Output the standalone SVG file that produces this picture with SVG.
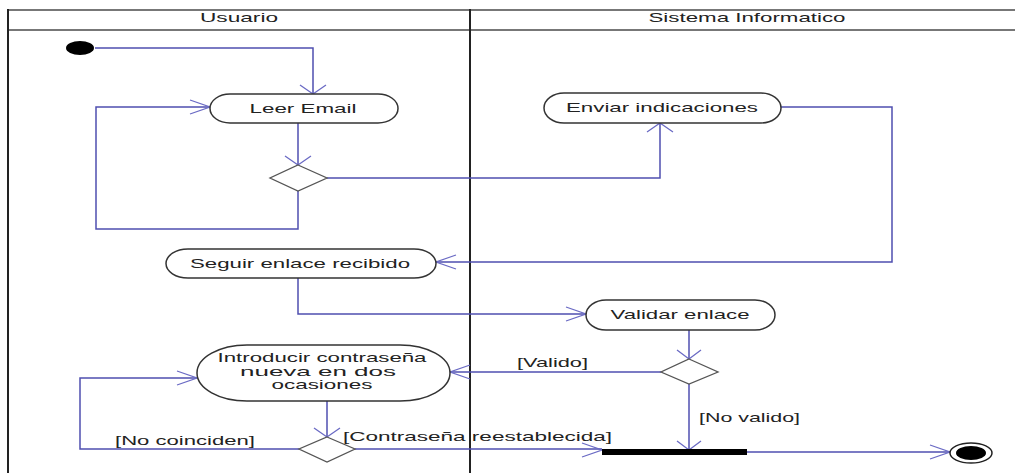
<svg xmlns="http://www.w3.org/2000/svg" width="1015" height="473" viewBox="0 0 1015 473">
  <style>
    text { font-family: "Liberation Sans", Arial, sans-serif; font-size: 13px; fill: #222; }
    .lbl { text-anchor: start; }
    .mid { text-anchor: middle; }
    .frame { stroke: #777; stroke-width: 2; fill: none; }
    .lane { stroke: #222; stroke-width: 2; fill: none; }
    .act { fill: #fff; stroke: #333; stroke-width: 1.5; }
    .dec { fill: #fff; stroke: #555; stroke-width: 1.3; }
    .flow { fill: none; stroke: #4f4fb0; stroke-width: 1.5; }
    .head { fill: none; stroke: #6a6ac4; stroke-width: 1.3; }
  </style>

  <rect width="1015" height="473" fill="#fff"/>

  <!-- swimlane frame -->
  <g id="swimlanes">
    <line class="frame" x1="8" y1="10" x2="1015" y2="10"/>
    <line class="frame" x1="8" y1="30" x2="1015" y2="30"/>
    <line class="lane" x1="8" y1="9" x2="8" y2="473" stroke-width="2.5"/>
    <line class="lane" x1="470" y1="9" x2="470" y2="473"/>
    <text class="mid" x="239" y="22" textLength="78" lengthAdjust="spacingAndGlyphs">Usuario</text>
    <text class="mid" x="747" y="22" textLength="197" lengthAdjust="spacingAndGlyphs">Sistema Informatico</text>
  </g>

  <!-- control flows -->
  <g id="connectors">
    <path class="flow" d="M95,48 H313 V94"/>
    <path class="head" d="M300,85 L313,94 L326,85"/>

    <path class="flow" d="M298,123 V165"/>
    <path class="head" d="M285,156 L298,165 L311,156"/>

    <path class="flow" d="M298,191 V229 H96 V107 H210"/>
    <path class="head" d="M190,100 L210,107 L190,114"/>

    <path class="flow" d="M327,178 H660 V123"/>
    <path class="head" d="M647,132 L660,123 L673,132"/>

    <path class="flow" d="M781,107 H892 V262 H436"/>
    <path class="head" d="M456,255 L436,262 L456,269"/>

    <path class="flow" d="M298,278 V314 H586"/>
    <path class="head" d="M566,307 L586,314 L566,321"/>

    <path class="flow" d="M689,330 V359"/>
    <path class="head" d="M677,350 L689,359 L701,350"/>

    <path class="flow" d="M661,372 H450"/>
    <path class="head" d="M470,365 L450,372 L470,379"/>

    <path class="flow" d="M689,384 V450"/>
    <path class="head" d="M677,441 L689,450 L701,441"/>

    <path class="flow" d="M747,452 H950"/>
    <path class="head" d="M930,445 L950,452 L930,459"/>

    <path class="flow" d="M327,401 V437"/>
    <path class="head" d="M314,428 L327,437 L340,428"/>

    <path class="flow" d="M299,449 H80 V378 H197"/>
    <path class="head" d="M177,371 L197,378 L177,385"/>

    <path class="flow" d="M355,449 H602"/>
    <path class="head" d="M582,443 L602,450 L582,457"/>

    <text class="lbl" x="517" y="367" textLength="71" lengthAdjust="spacingAndGlyphs">[Valido]</text>
    <text class="lbl" x="699" y="422" textLength="101" lengthAdjust="spacingAndGlyphs">[No valido]</text>
    <text class="lbl" x="115" y="445" textLength="140" lengthAdjust="spacingAndGlyphs">[No coinciden]</text>
    <text class="lbl" x="343" y="441" textLength="269" lengthAdjust="spacingAndGlyphs">[Contraseña reestablecida]</text>
  </g>

  <!-- nodes -->
  <g id="start">
    <ellipse cx="80" cy="48" rx="14" ry="7" fill="#000"/>
  </g>

  <g id="leer-email">
    <rect class="act" x="210" y="94" width="188" height="29" rx="20" ry="14.5"/>
    <text class="mid" x="303" y="113" textLength="107" lengthAdjust="spacingAndGlyphs">Leer Email</text>
  </g>

  <g id="decision-email">
    <polygon class="dec" points="298,165 327,178 298,191 270,178"/>
  </g>

  <g id="enviar-indicaciones">
    <rect class="act" x="544" y="93" width="237" height="30" rx="20" ry="15"/>
    <text class="mid" x="662" y="112" textLength="192" lengthAdjust="spacingAndGlyphs">Enviar indicaciones</text>
  </g>

  <g id="seguir-enlace">
    <rect class="act" x="166" y="249" width="270" height="29" rx="22" ry="14.5"/>
    <text class="mid" x="300" y="268" textLength="220" lengthAdjust="spacingAndGlyphs">Seguir enlace recibido</text>
  </g>

  <g id="validar-enlace">
    <rect class="act" x="586" y="300" width="189" height="30" rx="20" ry="15"/>
    <text class="mid" x="680" y="319" textLength="139" lengthAdjust="spacingAndGlyphs">Validar enlace</text>
  </g>

  <g id="decision-enlace">
    <polygon class="dec" points="689,359 718,372 689,384 661,372"/>
  </g>

  <g id="introducir-contrasena">
    <rect class="act" x="197" y="345" width="253" height="56" rx="50" ry="28"/>
    <text class="mid" x="322" y="362" textLength="209" lengthAdjust="spacingAndGlyphs">Introducir contraseña</text>
    <text class="mid" x="318" y="376" textLength="156" lengthAdjust="spacingAndGlyphs">nueva en dos</text>
    <text class="mid" x="322" y="389" textLength="101" lengthAdjust="spacingAndGlyphs">ocasiones</text>
  </g>

  <g id="decision-contrasena">
    <polygon class="dec" points="327,437 355,449 327,462 299,449"/>
  </g>

  <g id="join-bar">
    <rect x="602" y="449" width="145" height="6" fill="#000"/>
  </g>

  <g id="end">
    <ellipse cx="971" cy="453" rx="21" ry="10" fill="#fff" stroke="#222" stroke-width="1.5"/>
    <ellipse cx="971" cy="453" rx="15" ry="7" fill="#000"/>
  </g>
</svg>
